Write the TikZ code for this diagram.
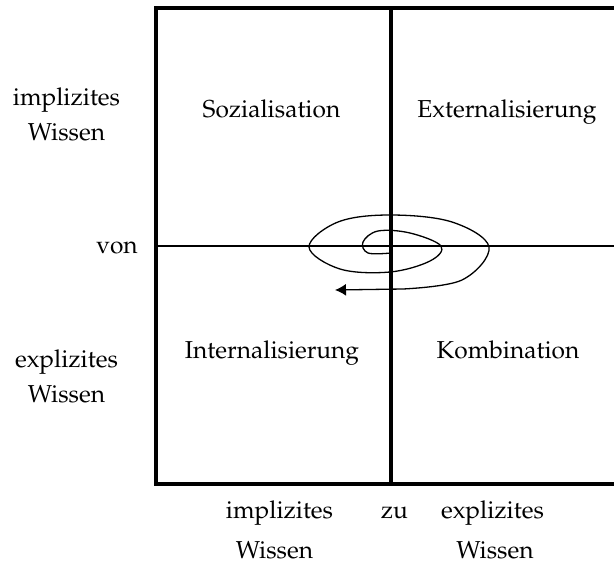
\documentclass[tikz,border=0pt]{standalone}
\usepackage[T1]{fontenc}
\usepackage{mathpazo}
\usetikzlibrary{arrows.meta}
\begin{document}
\begin{tikzpicture}[x=1pt,y=-1pt,
  lbl/.style={font=\fontsize{24.5}{35}\selectfont, align=center, inner sep=0pt, anchor=base},
  frame/.style={line width=3.5pt},
  thin/.style={line width=1.3pt}]
\useasboundingbox (0,0) rectangle (614,565);
% matrix frame, open on the right
\draw[frame] (614,8) -- (156,8) -- (156,484) -- (614,484);
\draw[frame] (391,8) -- (391,484);
\draw[thin] (156,246) -- (614,246);
% spiral with arrow
\draw[thin, -{Latex[length=11pt,width=12pt]}]
  plot[smooth, tension=0.6] coordinates {(391,253) (368,253) (363,242) (378,231) (410,233) (441,246) (430,261) (390,272) (340,269) (309,247) (338,222) (390,215) (452,222) (489,247) (462,280) (403,289)}
  -- (335,290);
% quadrant labels
\node[lbl] (soz) at (271.5,117) {Sozialisation};
\node[lbl] (ext) at (507,117) {Externalisierung};
\node[lbl] (int) at (272,358) {Internalisierung};
\node[lbl] (kom) at (508,358) {Kombination};
% row labels (base anchor sits on the last line)
\node[lbl] (impl) at (66.5,140) {implizites\\Wissen};
\node[lbl] (von) at (117,253) {von};
\node[lbl] (expl) at (66.5,402) {explizites\\Wissen};
% column labels
\node[lbl] (bimpl) at (279.5,518) {implizites};
\node[lbl] (zu) at (394.5,518) {zu};
\node[lbl] (bexpl) at (492.5,518) {explizites};
\node[lbl] (bw1) at (274.5,558) {Wissen};
\node[lbl] (bw2) at (495,558) {Wissen};
\end{tikzpicture}
\end{document}
